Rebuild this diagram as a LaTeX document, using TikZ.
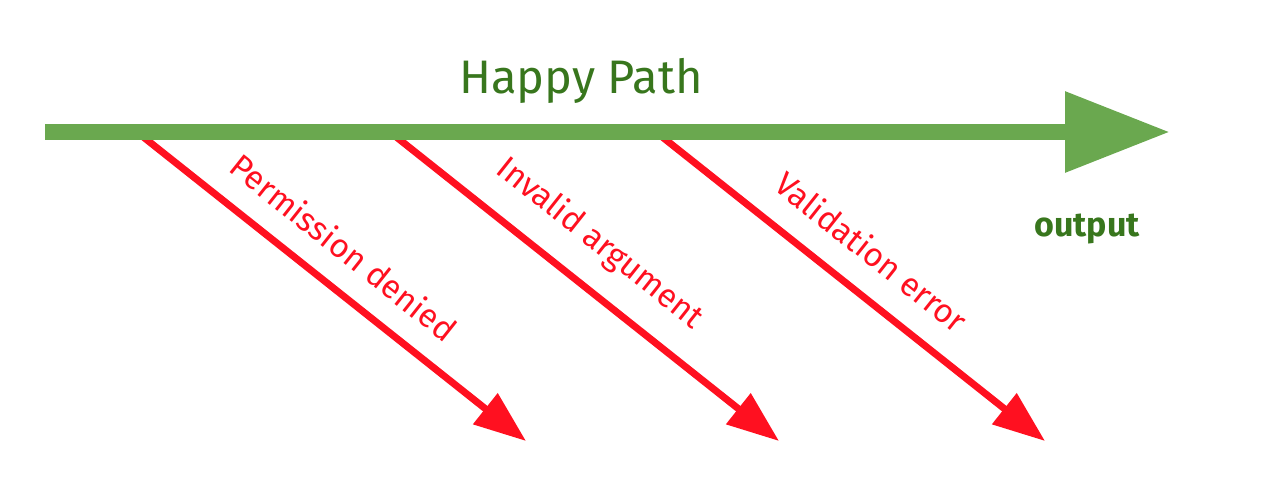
\documentclass[tikz,border=0pt]{standalone}
\usepackage{fontspec}
\setmainfont{Fira Sans}
\usetikzlibrary{arrows.meta}
\definecolor{barGreen}{RGB}{106,168,79}
\definecolor{textGreen}{RGB}{56,118,29}
\definecolor{errRed}{RGB}{255,16,32}
\tikzset{
  happyarrow/.style={draw=barGreen, line width=16pt,
    -{Triangle[length=105pt,width=77pt,fill=barGreen]}},
  errarrow/.style={draw=errRed, line width=7pt,
    -{Triangle[length=52pt,width=38pt,fill=errRed]}},
  errlabel/.style={text=errRed, font=\fontsize{33}{38}\selectfont, inner sep=0pt},
}
\begin{document}
\begin{tikzpicture}[x=1pt,y=-1pt]
  \useasboundingbox (0,0) rectangle (1280,498);
  % main flow
  \coordinate (hs) at (45,132);
  \coordinate (he) at (1170,132);
  % error branches leave the bar and head down to the right
  \coordinate (e1s) at (137,132);  \coordinate (e1e) at (526,441);
  \coordinate (e2s) at (390,132);  \coordinate (e2e) at (779,441);
  \coordinate (e3s) at (656,132);  \coordinate (e3e) at (1045,441);

  \draw[errarrow] (e1s) -- node[errlabel, pos=0.47, sloped, above=22pt] (l1) {Permission denied} (e1e);
  \draw[errarrow] (e2s) -- node[errlabel, pos=0.47, sloped, above=23pt] (l2) {Invalid argument} (e2e);
  \draw[errarrow] (e3s) -- node[errlabel, pos=0.49, sloped, above=24pt] (l3) {Validation error} (e3e);

  \draw[happyarrow] (hs) -- (he);

  \node[text=textGreen, font=\fontsize{47}{52}\selectfont, anchor=base] (hp) at (581,93) {Happy Path};
  \node[text=textGreen, font=\bfseries\fontsize{34}{40}\selectfont, anchor=base] (out) at (1087,236) {output};
\end{tikzpicture}
\end{document}
